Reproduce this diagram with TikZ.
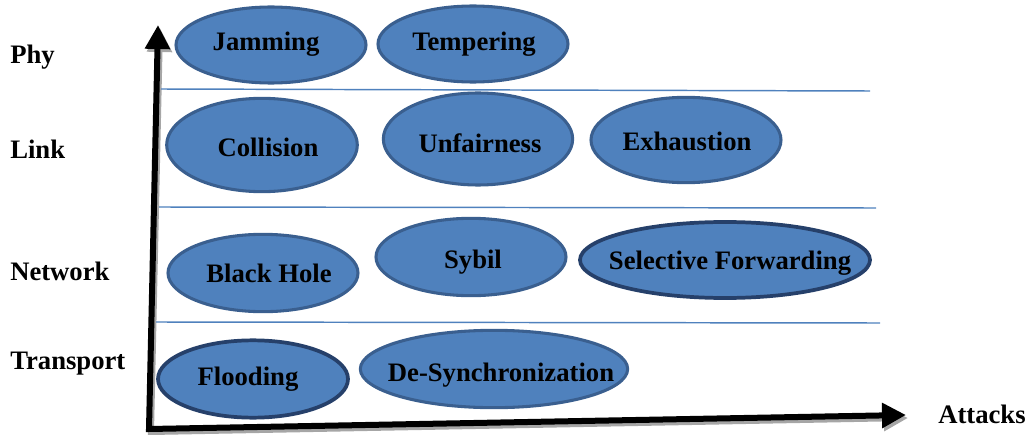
\documentclass[tikz,border=0pt]{standalone}
\usepackage{fontspec}
\setmainfont{Liberation Serif}
\usetikzlibrary{shapes.geometric,arrows.meta}
\definecolor{attfill}{HTML}{4F81BD}
\definecolor{attedge}{HTML}{3A5F8F}
\definecolor{attdark}{HTML}{26406A}
\definecolor{sepline}{HTML}{4F81BD}
\tikzset{
  att/.style={ellipse, draw=attedge, fill=attfill, line width=2.3pt, inner sep=0pt},
  attd/.style={att, draw=attdark, line width=2.8pt},
  txt/.style={font=\fontsize{20}{22}\selectfont\bfseries, inner sep=0pt, text=black},
  layer/.style={txt, anchor=west},
  sep/.style={draw=sepline, line width=1.1pt},
  axis/.style={line width=4.5pt, line join=miter,
    {Triangle[length=18pt,width=18pt]}-{Triangle[length=18pt,width=18pt]}},
  axshadow/.style={axis, draw=black!35}
}
\begin{document}
\begin{tikzpicture}[x=0.75pt,y=-0.75pt]
\useasboundingbox (0,0) rectangle (1029,435);
% axes
\coordinate (O) at (149,429);
\coordinate (Ytop) at (158,25);
\coordinate (Xend) at (906,415);
\coordinate (Os) at (151,432);
\coordinate (Ytops) at (160,28);
\coordinate (Xends) at (908,418);
\draw[axshadow] (Ytops) -- (Os) -- (Xends);
\draw[axis] (Ytop) -- (O) -- (Xend);
% separator lines
\coordinate (s1a) at (161,89);  \coordinate (s1b) at (870,91);
\coordinate (s2a) at (159,207); \coordinate (s2b) at (876,208);
\coordinate (s3a) at (156,322); \coordinate (s3b) at (880,323);
\draw[sep] (s1a) -- (s1b);
\draw[sep] (s2a) -- (s2b);
\draw[sep] (s3a) -- (s3b);
% layer labels
\node[layer] (phy) at (10,57) {Phy};
\node[layer] (link) at (10,149) {Link};
\node[layer] (net) at (10,271) {Network};
\node[layer] (trans) at (10,364) {Transport};
\node[txt, anchor=west] (attacks) at (938,414) {Attacks};
% attacks
\node[att, minimum width=142.5pt, minimum height=57pt] (jam) at (271,45) {};
\node[txt] (jamT) at (266,44) {Jamming};
\node[att, minimum width=142.5pt, minimum height=57pt] (tem) at (473,44) {};
\node[txt] (temT) at (474,44) {Tempering};
\node[att, minimum width=143pt, minimum height=70pt] (col) at (262,145) {};
\node[txt] (colT) at (268,147) {Collision};
\node[att, minimum width=142pt, minimum height=69pt] (unf) at (478,139) {};
\node[txt] (unfT) at (480,143) {Unfairness};
\node[att, minimum width=142.5pt, minimum height=64pt] (exh) at (686,140) {};
\node[txt] (exhT) at (687,141) {Exhaustion};
\node[att, minimum width=142.5pt, minimum height=58pt] (bh) at (263,273) {};
\node[txt] (bhT) at (269,273) {Black Hole};
\node[att, minimum width=142.5pt, minimum height=58pt] (syb) at (471,257) {};
\node[txt] (sybT) at (473,262) {Sybil};
\node[attd, minimum width=217.5pt, minimum height=57pt] (sf) at (725,260) {};
\node[txt] (sfT) at (730,263) {Selective Forwarding};
\node[attd, minimum width=142.5pt, minimum height=58pt] (fl) at (253,379) {};
\node[txt] (flT) at (248,379) {Flooding};
\node[att, minimum width=200.5pt, minimum height=58pt] (ds) at (494,369) {};
\node[txt] (dsT) at (501,375) {De-Synchronization};
\end{tikzpicture}
\end{document}
